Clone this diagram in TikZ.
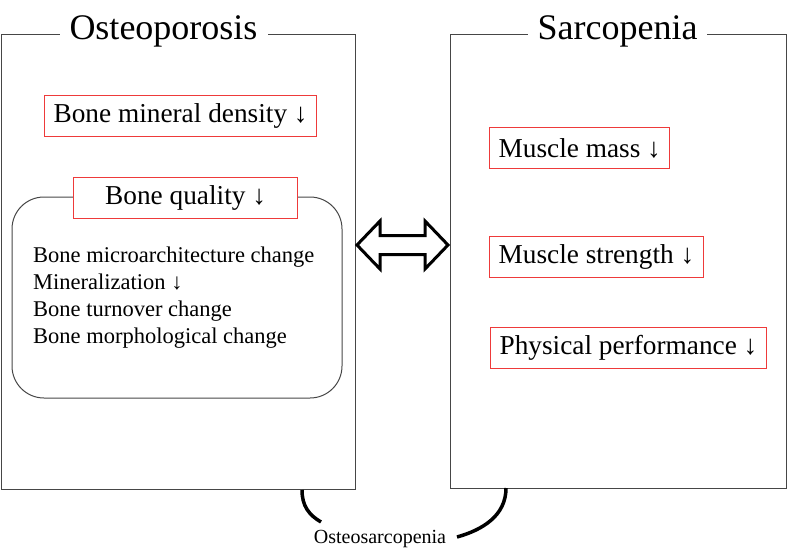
\documentclass[tikz,border=0pt]{standalone}
\usepackage{fontspec}
\setmainfont{Liberation Serif}
\usepackage{xcolor}
\usetikzlibrary{positioning}
\definecolor{boxred}{RGB}{238,58,58}
\definecolor{framegray}{RGB}{70,70,70}
\tikzset{
  frame/.style={
    draw=framegray, line width=1pt,
    anchor=north west, inner sep=0pt
  },
  frametitle/.style={
    fill=white, inner xsep=10pt, inner ysep=2pt,
    font=\fontsize{36}{40}\selectfont
  },
  redbox/.style={
    draw=boxred, line width=1.2pt, fill=white,
    anchor=west, inner xsep=9pt, inner ysep=0pt,
    minimum height=41pt,
    font=\fontsize{27.3}{31}\selectfont
  },
  bracket/.style={line width=3.5pt},
}

\begin{document}
\begin{tikzpicture}[x=1pt, y=-1pt]
  \useasboundingbox (0,0) rectangle (787,555);

  % frames
  \node[frame, minimum width=354.5pt, minimum height=455pt] (osteo) at (0.5,34) {};
  \node[frame, minimum width=336pt, minimum height=454pt] (sarco) at (450,34) {};
  \node[frametitle] (osteotitle) at (163.5,31) {Osteoporosis};
  \node[frametitle] (sarcotitle) at (617.5,31) {Sarcopenia};

  % bone side
  \node[redbox] (bmd) at (44,116) {Bone mineral density ↓};
  \draw[framegray, line width=1pt, rounded corners=32pt] (12,197) rectangle (342,398);
  \node[redbox, minimum width=224pt] (quality) at (73,198) {Bone quality ↓};
  \node[anchor=base west, align=left, inner sep=0pt,
        font=\fontsize{22.5}{27}\selectfont] (changes) at (33,343)
    {Bone microarchitecture change\\
     Mineralization ↓\\
     Bone turnover change\\
     Bone morphological change};

  % muscle side
  \node[redbox] (mass) at (489,148) {Muscle mass ↓};
  \node[redbox] (strength) at (489,257) {Muscle strength ↓};
  \node[redbox] (perf) at (490,348) {Physical performance ↓};

  % link
  \draw[line width=3pt, miter limit=10]
    (357,245) -- (380,221) -- (380,235.5) -- (425,235.5) -- (425,221)
    -- (448,245) -- (425,269) -- (425,254.5) -- (380,254.5) -- (380,269) -- cycle;

  % osteosarcopenia
  \node[font=\fontsize{20}{24}\selectfont] (os) at (380,539) {Osteosarcopenia};
  \draw[bracket] (302,490) .. controls (302,506) and (309,515) .. (321,522);
  \draw[bracket] (506,488) .. controls (506,516) and (482,530) .. (457,537);
\end{tikzpicture}
\end{document}
